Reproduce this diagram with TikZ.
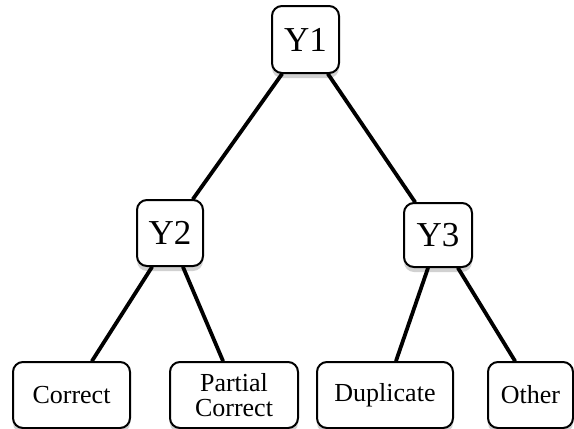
\documentclass[tikz,border=0pt]{standalone}
\usepackage{fontspec}
\setmainfont{Liberation Serif}
\usetikzlibrary{shadows,calc}
\tikzset{
  box/.style={draw=black, line width=1pt, rounded corners=5pt, fill=white, align=center, inner sep=0pt,
    drop shadow={opacity=0.3, shadow xshift=0pt, shadow yshift=-2.5pt, fill=black!60}},
  ybox/.style={box, font=\fontsize{17.5}{19}\selectfont},
  leaf/.style={box, font=\fontsize{13}{12.5}\selectfont, minimum height=33pt},
  edge/.style={line width=1.9pt, line cap=round}
}
\begin{document}
\begin{tikzpicture}[x=0.5pt, y=-0.5pt]
\useasboundingbox (0,0) rectangle (574,429);
\node[ybox, minimum width=33.5pt, minimum height=33.5pt] (y1) at (305.5,39.5) {Y1};
\node[ybox, minimum width=33pt, minimum height=33pt] (y2) at (170,233) {Y2};
\node[ybox, minimum width=34pt, minimum height=32pt] (y3) at (438,235) {Y3};
\node[leaf, minimum width=58.5pt] (c) at (71.5,395) {Correct};
\node[leaf, minimum width=64pt] (p) at (234,395) {Partial\\Correct};
\node[leaf, minimum width=68pt] (d) at (385,395) {Duplicate};
\node[leaf, minimum width=42.5pt] (o) at (530.5,395) {Other};
\draw[edge] ([xshift=-11.75pt]y1.south) -- ([xshift=11.5pt]y2.north);
\draw[edge] ([xshift=11.25pt]y1.south) -- ([xshift=-11.5pt]y3.north);
\draw[edge] ([xshift=-9pt]y2.south) -- ([xshift=10.25pt]c.north);
\draw[edge] ([xshift=6.5pt]y2.south) -- ([xshift=-5.5pt]p.north);
\draw[edge] ([xshift=-5pt]y3.south) -- ([xshift=5.5pt]d.north);
\draw[edge] ([xshift=10pt]y3.south) -- ([xshift=-7.75pt]o.north);
\end{tikzpicture}
\end{document}
